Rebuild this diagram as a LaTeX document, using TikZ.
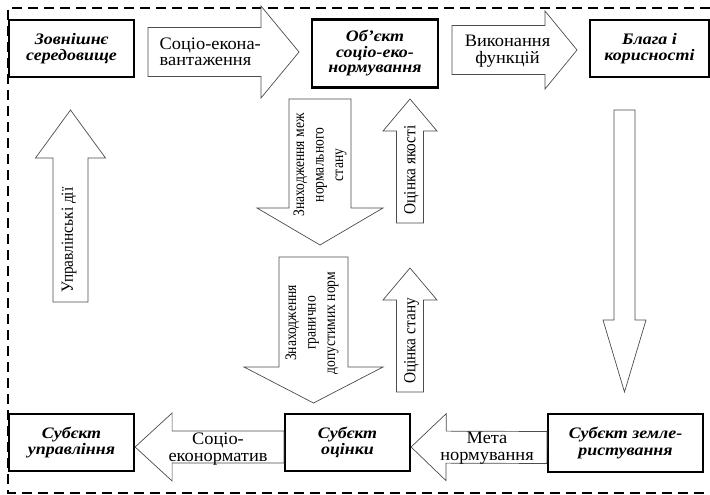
\documentclass[tikz,border=0pt]{standalone}
\usepackage{fontspec}
\setmainfont{Liberation Serif}
\newfontfamily\boxfont[FakeStretch=1.12]{Liberation Serif}
\newfontfamily\wfont[FakeStretch=1.05]{Liberation Serif}
\newfontfamily\condfont[FakeStretch=0.85]{Liberation Serif}
\newfontfamily\condfontb[FakeStretch=0.9]{Liberation Serif}
\usetikzlibrary{calc}
\newcommand\blockarrow[6][]{%
\draw[blk,#1] let \p1=(#2), \p2=(#3), \n1={veclen(\x2-\x1,\y2-\y1)}, \n2={(\x2-\x1)/\n1}, \n3={(\y2-\y1)/\n1} in
 ({\x1-#4*\n3},{\y1+#4*\n2}) -- ({\x2-#6*\n2-#4*\n3},{\y2-#6*\n3+#4*\n2}) -- ({\x2-#6*\n2-#5*\n3},{\y2-#6*\n3+#5*\n2}) -- (\p2) -- ({\x2-#6*\n2+#5*\n3},{\y2-#6*\n3-#5*\n2}) -- ({\x2-#6*\n2+#4*\n3},{\y2-#6*\n3-#4*\n2}) -- ({\x1+#4*\n3},{\y1-#4*\n2}) -- cycle;}
\begin{document}
\begin{tikzpicture}[x=1pt,y=-1pt,
 box/.style={draw, line width=2.2pt, fill=white, inner sep=0pt},
 blk/.style={draw=black!70, line width=0.7pt, fill=white},
 boxtext/.style={font=\boxfont\fontsize{16}{16.5}\selectfont\bfseries\itshape, align=center},
 atext/.style={font=\wfont\fontsize{17.5}{16.5}\selectfont, align=center, inner sep=0pt},
 vtext/.style={font=\condfont\fontsize{16}{19.5}\selectfont, align=center, rotate=90, inner sep=0pt},
 vtextb/.style={font=\condfontb\fontsize{17}{19.5}\selectfont, align=center, rotate=90, inner sep=0pt},
 frame/.style={line width=2pt, dash pattern=on 10pt off 6pt}]
\useasboundingbox (0,0) rectangle (710,495);
\draw[frame] (710,8) -- (8,8) -- (8,492.5) -- (710,492.5);
% boxes
\node[box, minimum width=125pt, minimum height=57pt, boxtext] (env) at (71.5,48.5) {Зовнішнє\\середовище};
\node[box, minimum width=126pt, minimum height=68pt, boxtext, font=\boxfont\fontsize{16}{15.5}\selectfont\bfseries\itshape] (obj) at (375,53.5) {Об’єкт\\соціо-еко-\\нормування};
\node[box, minimum width=119pt, minimum height=57pt, boxtext] (goods) at (649.5,48.5) {Блага і\\корисності};
\node[box, minimum width=125pt, minimum height=57pt, boxtext] (mgmt) at (71.5,442.5) {Субєкт\\управління};
\node[box, minimum width=125pt, minimum height=57pt, boxtext] (eval) at (347.5,442.5) {Субєкт\\оцінки};
\node[box, minimum width=155pt, minimum height=58pt, boxtext] (land) at (625.5,443) {Субєкт земле-\\ристування};
% arrow end points
\coordinate (a1s) at (148,52); \coordinate (a1e) at (299,52);
\coordinate (a2s) at (452,50); \coordinate (a2e) at (577,50);
\coordinate (a3s) at (70.5,302); \coordinate (a3e) at (70.5,110);
\coordinate (a4s) at (320,99); \coordinate (a4e) at (320,245);
\coordinate (a5s) at (410,223); \coordinate (a5e) at (410,99);
\coordinate (a6s) at (313.5,257); \coordinate (a6e) at (313.5,403);
\coordinate (a7s) at (410,392); \coordinate (a7e) at (410,268);
\coordinate (a8s) at (624.5,110); \coordinate (a8e) at (624.5,392);
% block arrows
\blockarrow{a1s}{a1e}{24.5}{46}{38}
\blockarrow{a2s}{a2e}{24.5}{39}{32}
\blockarrow{a3s}{a3e}{17.5}{35}{48}
\blockarrow{a4s}{a4e}{31}{63}{37}
\blockarrow{a5s}{a5e}{13.5}{27}{32}
\blockarrow{a6s}{a6e}{34.5}{69.5}{36}
\blockarrow{a7s}{a7e}{13.5}{27}{32}
\blockarrow{a8s}{a8e}{10.5}{21.5}{72}
\blockarrow{[yshift=-4.5pt]eval.west}{[yshift=-4.5pt]mgmt.east}{16}{34}{37}
\blockarrow{[yshift=-4.5pt]land.west}{[yshift=-4.5pt]eval.east}{16}{33.5}{35}
% arrow labels
\node[atext, align=left, anchor=west] (t1) at (159.5,52) {Соціо-екона-\\вантаження};
\node[atext] (t2) at (507.5,51) {Виконання\\функцій};
\node[vtextb] (t3) at (69,240) {Управлінські дії};
\node[vtext] (t4) at (320,165) {Знаходження меж\\нормального\\стану};
\node[vtextb] (t5) at (411.5,170) {Оцінка якості};
\node[vtext] (t6) at (312,323) {Знаходження\\гранично\\допустимих норм};
\node[vtextb] (t7) at (411.5,341) {Оцінка стану};
\node[atext] (t9) at (218,449) {Соціо-\\еконорматив};
\node[atext] (t10) at (487,448) {Мета\\нормування};
\end{tikzpicture}
\end{document}
